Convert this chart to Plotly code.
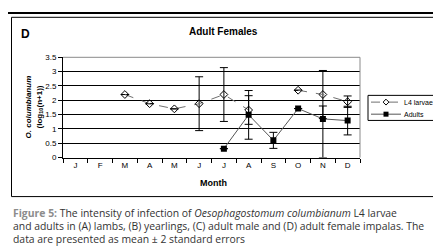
import plotly.graph_objects as go

months = ["J", "F", "M", "A", "M", "J", "J", "A", "S", "O", "N", "D"]
month_keys = ["Jan", "Feb", "Mar", "Apr", "May", "Jun", "Jul", "Aug", "Sep", "Oct", "Nov", "Dec"]

l4_values = [None, None, 2.2, 1.88, 1.7, 1.88, 2.2, 1.66, None, 2.35, 2.2, 1.95]
l4_err_plus = [0, 0, 0, 0, 0, 0.94, 0.94, 0.5, 0, 0, 0.84, 0.2]
l4_err_minus = [0, 0, 0, 0, 0, 0.94, 0.94, 0.5, 0, 0, 0.84, 0.2]

adult_values = [None, None, None, None, None, None, 0.31, 1.49, 0.6, 1.71, 1.35, 1.29]
adult_err_plus = [0, 0, 0, 0, 0, 0, 0, 0.85, 0.28, 0, 0.45, 0.5]
adult_err_minus = [0, 0, 0, 0, 0, 0, 0, 0.85, 0.28, 0, 1.35, 0.5]

series_names = ["L4 larvae", "Adults"]

W, H = 441, 249
x0, x1 = 55, 352
y0, y1 = 47, 151

l4_line = dict(color="#707070", width=1, dash="dash")
l4_marker = dict(symbol="diamond-open", size=6, color="black", line=dict(width=1))
ad_line = dict(color="#555555", width=1)
ad_marker = dict(symbol="square", size=6, color="black")

fig = go.Figure()
fig.add_trace(go.Scatter(
    x=month_keys, y=l4_values, name=series_names[0], mode="lines+markers",
    line=l4_line, marker=l4_marker,
    error_y=dict(type="data", array=l4_err_plus, arrayminus=l4_err_minus,
                 color="black", thickness=1, width=4),
    connectgaps=False, showlegend=False,
))
fig.add_trace(go.Scatter(
    x=month_keys, y=adult_values, name=series_names[1], mode="lines+markers",
    line=ad_line, marker=ad_marker,
    error_y=dict(type="data", array=adult_err_plus, arrayminus=adult_err_minus,
                 color="black", thickness=1, width=4),
    showlegend=False,
))

# Manual legend key, drawn in a small subplot that covers only the legend box
leg_l, leg_r, leg_t, leg_b = 360, 426, 86.5, 112.5
rows = [93.5, 106]
legend_markers = [dict(l4_marker, size=4.5), dict(ad_marker, size=5)]
for name, ln, mk, ry in [(series_names[0], l4_line, legend_markers[0], rows[0]),
                         (series_names[1], ad_line, legend_markers[1], rows[1])]:
    fig.add_trace(go.Scatter(
        x=[363, 378, 393], y=[ry, ry, ry], mode="lines", line=ln,
        xaxis="x2", yaxis="y2", showlegend=False, hoverinfo="skip"))
    fig.add_trace(go.Scatter(
        x=[378], y=[ry], mode="markers", marker=mk, cliponaxis=False,
        xaxis="x2", yaxis="y2", showlegend=False, hoverinfo="skip"))

fig.update_layout(
    width=W, height=H,
    margin=dict(l=0, r=0, t=0, b=0),
    paper_bgcolor="white", plot_bgcolor="rgba(0,0,0,0)",
    font=dict(family="Liberation Sans, Arial, sans-serif", color="black"),
    showlegend=False,
    xaxis=dict(
        domain=[x0 / W, x1 / W],
        type="category", categoryorder="array", categoryarray=month_keys,
        tickmode="array", tickvals=month_keys, ticktext=months,
        tickson="boundaries", ticks="outside", ticklen=4, tickcolor="black",
        showline=True, linecolor="black", linewidth=1, showgrid=False,
        tickfont=dict(size=8, family="Liberation Sans, Arial, sans-serif"),
        range=[-0.5, 11.5], zeroline=False,
    ),
    yaxis=dict(
        domain=[1 - y1 / H, 1 - y0 / H],
        range=[0, 3.5], dtick=0.5, tick0=0,
        ticks="outside", ticklen=4, tickcolor="black",
        showline=True, linecolor="black", linewidth=1,
        showgrid=True, gridcolor="black", gridwidth=1,
        tickfont=dict(size=8, family="Liberation Sans, Arial, sans-serif"),
        zeroline=False,
    ),
    xaxis2=dict(domain=[leg_l / W, leg_r / W], range=[leg_l, leg_r], visible=False,
                anchor="y2", fixedrange=True),
    yaxis2=dict(domain=[1 - leg_b / H, 1 - leg_t / H], range=[leg_b, leg_t], visible=False,
                anchor="x2", fixedrange=True),
)

shapes = [
    dict(type="line", xref="paper", yref="paper", x0=0, x1=430 / W, y0=1 - 1 / H, y1=1 - 1 / H,
         line=dict(color="black", width=2)),
    dict(type="rect", xref="paper", yref="paper", x0=3.5 / W, x1=428.5 / W,
         y0=1 - 191.5 / H, y1=1 - 5.5 / H, line=dict(color="black", width=1)),
    dict(type="line", xref="paper", yref="paper", x0=x0 / W, x1=x1 / W,
         y0=1 - y0 / H, y1=1 - y0 / H, line=dict(color="#8a8a8a", width=1)),
    dict(type="line", xref="paper", yref="paper", x0=x1 / W, x1=x1 / W,
         y0=1 - y0 / H, y1=1 - y1 / H, line=dict(color="#8a8a8a", width=1)),
    dict(type="rect", xref="paper", yref="paper", x0=leg_l / W, x1=leg_r / W,
         y0=1 - leg_b / H, y1=1 - leg_t / H, line=dict(color="black", width=1)),
]
fig.update_layout(shapes=shapes)

ann = [
    dict(text="<b>D</b>", x=11 / W, y=1 - 22.5 / H, xanchor="left", yanchor="middle",
         font=dict(size=12)),
    dict(text="<b>Adult Females</b>", x=215 / W, y=1 - 20 / H, xanchor="center", yanchor="middle",
         font=dict(size=10)),
    dict(text="<b>Month</b>", x=205 / W, y=1 - 177 / H, xanchor="center", yanchor="middle",
         font=dict(size=9)),
    dict(text="<b><i>O. columbianum</i></b>", x=20 / W, y=1 - 99 / H, xanchor="center", yanchor="middle",
         textangle=-90, font=dict(size=8)),
    dict(text="<b>(log<sub>10</sub>(n+1))</b>", x=32 / W, y=1 - 99 / H, xanchor="center", yanchor="middle",
         textangle=-90, font=dict(size=8)),
]
for name, ry in zip(series_names, rows):
    ann.append(dict(text=name, x=394 / W, y=1 - ry / H, xanchor="left", yanchor="middle",
                    font=dict(size=7, color="black")))
cap_font = dict(size=10.4, family="Open Sans, Liberation Sans, sans-serif", color="#333333")
cap_lines = [
    "<b><span style='color:#8c8c8c'>Figure 5:</span></b> The intensity of infection of <i>Oesophagostomum columbianum</i> L4 larvae",
    "and adults in (A) lambs, (B) yearlings, (C) adult male and (D) adult female impalas. The",
    "data are presented as mean ± 2 standard errors",
]
for i, t in enumerate(cap_lines):
    ann.append(dict(text=t, x=3 / W, y=1 - (209 + 13.5 * i) / H, xanchor="left", yanchor="middle",
                    font=cap_font))
for a in ann:
    a.update(xref="paper", yref="paper", showarrow=False)
fig.update_layout(annotations=ann)

fig.write_html("out.html")
